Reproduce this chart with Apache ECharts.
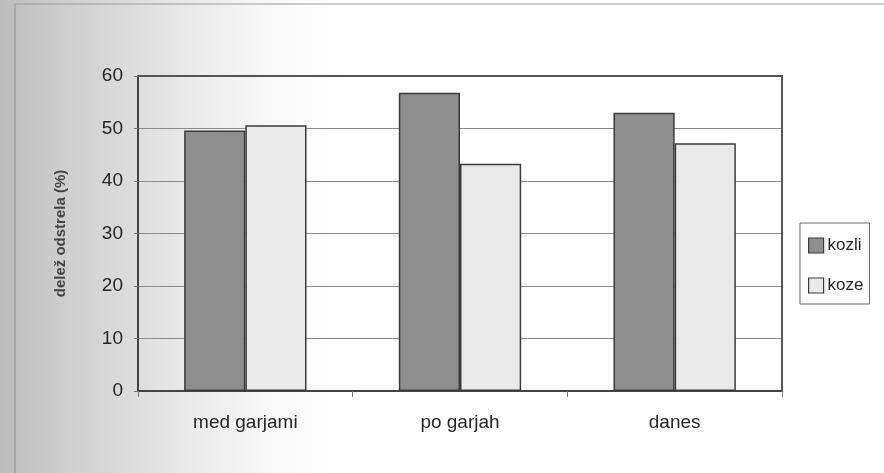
<!DOCTYPE html>
<html>
<head>
<meta charset="utf-8">
<script src="https://cdn.jsdelivr.net/npm/echarts@6/dist/echarts.min.js"></script>
<style>
  html, body { margin: 0; padding: 0; }
  body {
    width: 884px; height: 473px; overflow: hidden;
    background: linear-gradient(to right, #bcbcbc 0px, #cdcdcd 60px, #dcdcdc 130px, #ececec 200px, #f8f8f8 270px, #ffffff 340px);
  }
  #chart { width: 884px; height: 473px; }
</style>
</head>
<body>
<div id="chart"></div>
<script>
// Deleži odstrela po obdobjih
const categories = ['med garjami', 'po garjah', 'danes'];
const kozli = [49.6, 56.8, 53.0];
const koze = [50.6, 43.3, 47.2];
const yTicks = { min: 0, max: 60, interval: 10 };

const chart = echarts.init(document.getElementById('chart'), null, { renderer: 'canvas' });

const textColor = '#262626';

chart.setOption({
  animation: false,
  backgroundColor: 'transparent',
  textStyle: { fontFamily: 'Liberation Sans, Arial, sans-serif' },
  graphic: [
    {
      // page frame (left and top edges)
      type: 'polyline',
      shape: { points: [[15, 473], [15, 4], [884, 4]] },
      style: { fill: 'none', stroke: '#9a9a9a', lineWidth: 1.2 },
      silent: true
    },
    {
      // top and right border of the plot frame
      type: 'polyline',
      shape: { points: [[138, 76], [782, 76], [782, 391]] },
      style: { fill: 'none', stroke: '#555', lineWidth: 2 },
      silent: true,
      z: 10
    }
  ],
  grid: { left: 138, right: 102, top: 76, bottom: 82, containLabel: false },
  legend: {
    orient: 'vertical',
    left: 800,
    top: 223,
    padding: [14, 6, 10, 8],
    itemWidth: 15,
    itemHeight: 15,
    itemGap: 23,
    itemStyle: { borderColor: '#3a3a3a', borderWidth: 1.2 },
    backgroundColor: '#ffffff',
    borderColor: '#6a6a6a',
    borderWidth: 1,
    textStyle: { fontSize: 17, color: textColor, padding: [0, 0, 0, -1] },
    data: [
      { name: 'kozli', icon: 'rect' },
      { name: 'koze', icon: 'rect' }
    ]
  },
  xAxis: {
    type: 'category',
    data: categories,
    axisLine: { lineStyle: { color: '#444', width: 2 } },
    axisTick: { show: true, length: 6, lineStyle: { color: '#777', width: 1 } },
    axisLabel: { fontSize: 19, color: textColor, margin: 22 }
  },
  yAxis: {
    type: 'value',
    min: yTicks.min,
    max: yTicks.max,
    interval: yTicks.interval,
    name: 'delež odstrela (%)',
    nameLocation: 'middle',
    nameGap: 70,
    nameTextStyle: { fontSize: 15, fontWeight: 'bold', color: '#444' },
    axisLine: { show: true, lineStyle: { color: '#444', width: 2 } },
    axisTick: { show: true, length: 4, lineStyle: { color: '#777' } },
    axisLabel: { fontSize: 19, color: textColor, margin: 15 },
    splitLine: { show: true, lineStyle: { color: '#8a8a8a', width: 1 } }
  },
  series: [
    {
      name: 'kozli',
      type: 'bar',
      data: kozli,
      barGap: '0%',
      barCategoryGap: '43%',
      itemStyle: { color: '#8e8e8e', borderColor: '#3a3a3a', borderWidth: 1.5 }
    },
    {
      name: 'koze',
      type: 'bar',
      data: koze,
      itemStyle: { color: '#e9e9e9', borderColor: '#3a3a3a', borderWidth: 1.5 }
    }
  ]
});
</script>
</body>
</html>
